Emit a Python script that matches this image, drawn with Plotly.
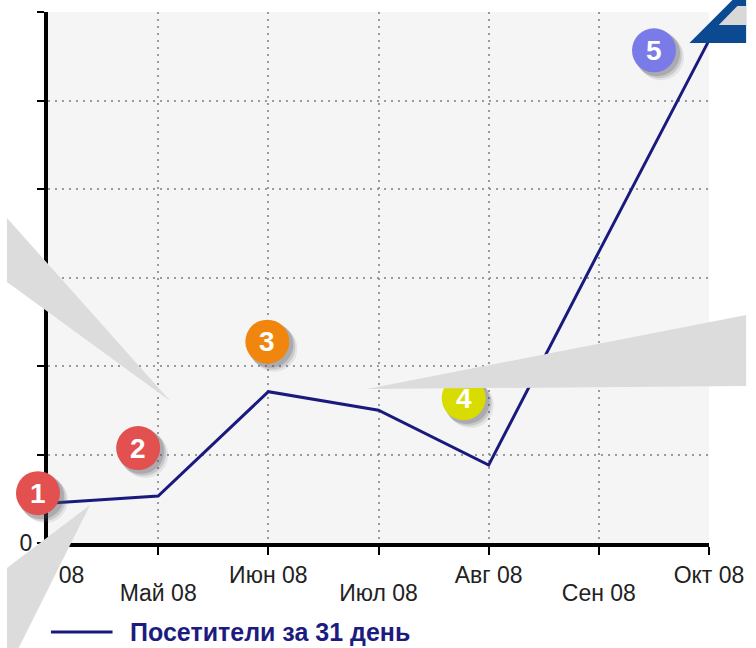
import plotly.graph_objects as go

# ---- data ----
months = ["Апр 08", "Май 08", "Июн 08", "Июл 08", "Авг 08", "Сен 08", "Окт 08"]
upper_labels = ["Апр 08", "", "Июн 08", "", "Авг 08", "", "Окт 08"]
lower_idx = [1, 3, 5]
lower_labels = ["Май 08", "Июл 08", "Сен 08"]
visitors = [450, 530, 1710, 1500, 880, 3290, 5680]
series_name = "Посетители за 31 день"
y_ticks = [0, 1000, 2000, 3000, 4000, 5000, 6000]
y_tick_text = ["0", "", "", "", "", "", ""]
Y_MAX = 6000

# numbered badges: (index of month, label, colour, pixel dx, pixel dy)
badges = [
    (0, "1", "#e2504f", -10, 10),
    (1, "2", "#e2504f", -20, 48),
    (2, "3", "#f0860e", -1, 50),
    (4, "4", "#d9dc00", -25, 67),
    (6, "5", "#7a7ae8", -55, -10),
]

W, H = 756, 648
L, R, T, B = 42, 38, 12, 105
PW, PH = W - L - R, H - T - B


def px(x, y):
    return (x - L) / PW, (H - B - y) / PH


def poly(points):
    pts = [px(x, y) for x, y in points]
    return "M " + " L ".join(f"{a:.4f},{b:.4f}" for a, b in pts) + " Z"


fig = go.Figure()
fig.add_trace(go.Scatter(
    x=list(range(len(months))), y=visitors, mode="lines", name=series_name,
    line=dict(color="#1a1a7e", width=3), showlegend=False,
))
# invisible companion trace so the second-row month axis is drawn
fig.add_trace(go.Scatter(
    x=lower_idx, y=[visitors[i] for i in lower_idx], xaxis="x2", mode="lines",
    line=dict(width=0), opacity=0, showlegend=False, hoverinfo="skip",
))

shapes = []
annotations = []
R0 = 22
for idx, lab, col, dx, dy in badges:
    # anchor at the data point, expressed in paper units so the badge is not clipped
    ax_p = idx / (len(months) - 1)
    ay_p = visitors[idx] / Y_MAX
    for k, op in [(7, 0.10), (5, 0.18), (3, 0.25)]:
        shapes.append(dict(type="circle", xref="paper", yref="paper", xsizemode="pixel", ysizemode="pixel",
                           xanchor=ax_p, yanchor=ay_p,
                           x0=dx - R0 + k - 1, x1=dx + R0 + k + 1, y0=dy - R0 - k - 1, y1=dy + R0 - k + 1,
                           fillcolor=f"rgba(80,80,90,{op})", line=dict(width=0), layer="above"))
    shapes.append(dict(type="circle", xref="paper", yref="paper", xsizemode="pixel", ysizemode="pixel",
                       xanchor=ax_p, yanchor=ay_p,
                       x0=dx - R0, x1=dx + R0, y0=dy - R0, y1=dy + R0,
                       fillcolor=col, line=dict(width=0), layer="above"))
    annotations.append(dict(x=idx, y=visitors[idx], xref="x", yref="y", text=f"<b>{lab}</b>",
                            showarrow=False, xshift=dx, yshift=dy,
                            font=dict(family="Liberation Sans", size=28, color="white")))

# grey callout wedges and blue arrow (decorative overlays)
grey = "#dcdcdc"
shapes.append(dict(type="path", xref="paper", yref="paper", layer="above",
                   path=poly([(0, 218), (167, 401), (0, 282)]), fillcolor=grey, line=dict(width=0)))
shapes.append(dict(type="path", xref="paper", yref="paper", layer="above",
                   path=poly([(85, 505), (0, 568), (0, 648), (12, 648)]), fillcolor=grey, line=dict(width=0)))
shapes.append(dict(type="path", xref="paper", yref="paper", layer="above",
                   path=poly([(368, 389), (756, 315), (756, 386)]), fillcolor=grey, line=dict(width=0)))
shapes.append(dict(type="path", xref="paper", yref="paper", layer="above",
                   path=poly([(698, 43), (742, 0), (756, 0), (756, 43)]), fillcolor="#0b4a91", line=dict(width=0)))
shapes.append(dict(type="path", xref="paper", yref="paper", layer="above",
                   path=poly([(728, 25), (747, 6), (756, 6), (756, 25)]), fillcolor="#d8d8d8", line=dict(width=0)))

# legend: sample line + series name
lx0, ly = px(45, 632)
lx1, _ = px(108, 632)
tx, _ = px(124, 632)
shapes.append(dict(type="line", xref="paper", yref="paper", x0=lx0, x1=lx1, y0=ly, y1=ly,
                   line=dict(color="#1a1a7e", width=3)))
annotations.append(dict(x=tx, y=ly, xref="paper", yref="paper", xanchor="left", yanchor="middle",
                        text=f"<b>{series_name}</b>", showarrow=False,
                        font=dict(family="Liberation Sans", size=25, color="#1c1c80")))

grid_dash = "2px,5px"
fig.update_layout(
    width=W, height=H, margin=dict(l=L, r=R, t=T, b=B, pad=0),
    paper_bgcolor="white", plot_bgcolor="#f5f5f5",
    font=dict(family="Liberation Sans", size=23, color="#222222"),
    shapes=shapes, annotations=annotations,
    showlegend=False,
    xaxis=dict(
        tickmode="array", tickvals=list(range(len(months))), ticktext=upper_labels,
        range=[0, len(months) - 1], showline=True, linecolor="black", linewidth=4,
        ticks="outside", ticklen=8, tickwidth=2, tickcolor="black",
        showgrid=True, gridcolor="#9a9a9a", griddash=grid_dash, gridwidth=2,
        zeroline=False, tickangle=0,
    ),
    xaxis2=dict(
        overlaying="x", anchor="y", side="bottom", matches="x",
        tickmode="array", tickvals=lower_idx, ticktext=lower_labels,
        range=[0, len(months) - 1], showline=False, showgrid=False, zeroline=False,
        ticks="", ticklabelstandoff=34, tickangle=0,
    ),
    yaxis=dict(
        tickmode="array", tickvals=y_ticks, ticktext=y_tick_text, range=[0, Y_MAX],
        showline=True, linecolor="black", linewidth=4,
        ticks="outside", ticklen=7, tickwidth=2, tickcolor="black",
        showgrid=True, gridcolor="#9a9a9a", griddash=grid_dash, gridwidth=2,
        zeroline=False,
    ),
)

fig.write_html("out.html", config={"displayModeBar": False},
               post_script="document.body.style.margin='0px';document.body.style.overflow='hidden';")
